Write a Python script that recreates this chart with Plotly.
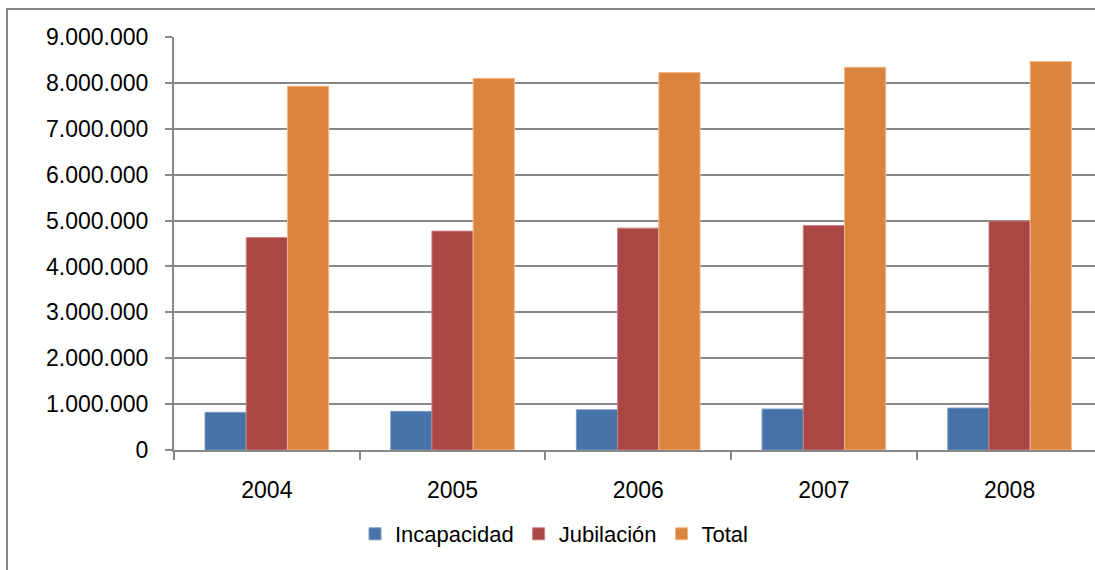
import plotly.graph_objects as go

# Pensions by type, 2004-2008
years = ["2004", "2005", "2006", "2007", "2008"]
incapacidad = [820000, 842000, 878000, 893000, 915000]
jubilacion = [4630000, 4770000, 4835000, 4890000, 4990000]
total = [7927000, 8100000, 8225000, 8340000, 8465000]

y_tick_values = [0, 1000000, 2000000, 3000000, 4000000, 5000000, 6000000, 7000000, 8000000, 9000000]
y_tick_labels = ["0", "1.000.000", "2.000.000", "3.000.000", "4.000.000", "5.000.000",
                 "6.000.000", "7.000.000", "8.000.000", "9.000.000"]

series = [
    ("Incapacidad", incapacidad, "#4572A7", "#7f9cc4"),
    ("Jubilación", jubilacion, "#AA4643", "#c98482"),
    ("Total", total, "#DB843D", "#f0b98c"),
]

W, H = 1095, 570
L, R, T, B = 174, 0, 37, 120
GRID = "#888888"
FONT = "Liberation Sans, Arial, sans-serif"

fig = go.Figure()
for name, vals, color, edge in series:
    fig.add_trace(go.Bar(
        name=name, x=years, y=vals,
        marker=dict(color=color, line=dict(color=edge, width=1)),
    ))

fig.update_layout(
    width=W, height=H,
    margin=dict(l=L, r=R, t=T, b=B, pad=0),
    paper_bgcolor="white", plot_bgcolor="white",
    barmode="group", bargap=0.334, bargroupgap=0,
    font=dict(family=FONT, size=22, color="#000000"),
    showlegend=True,
    legend=dict(
        orientation="h", x=(355 - L) / (W - L - R), xanchor="left",
        y=(450 - 534) / (H - T - B), yanchor="middle",
        font=dict(size=22, color="#000000"),
        bgcolor="rgba(0,0,0,0)", traceorder="normal",
    ),
)

fig.update_xaxes(
    type="category", range=[-0.5, 4.46],
    showline=True, linecolor=GRID, linewidth=2,
    ticks="outside", tickson="boundaries", ticklen=8, tickcolor=GRID, tickwidth=2,
    showgrid=False, tickfont=dict(size=23, family=FONT),
    ticklabelstandoff=18,
)
fig.update_yaxes(
    range=[0, 9000000],
    tickvals=y_tick_values, ticktext=y_tick_labels,
    showline=True, linecolor=GRID, linewidth=2,
    ticks="outside", ticklen=7, tickcolor=GRID, tickwidth=2,
    showgrid=True, gridcolor=GRID, gridwidth=2,
    zeroline=False, tickfont=dict(size=23, family=FONT),
    ticklabelstandoff=12,
)

# chart-area border
fig.add_shape(type="rect", xref="paper", yref="paper",
              x0=(7 - L) / (W - L - R), x1=1.02,
              y0=-0.5, y1=(450 - 9) / (H - T - B),
              line=dict(color=GRID, width=2), fillcolor="rgba(0,0,0,0)", layer="below")

fig.write_html("out.html")
